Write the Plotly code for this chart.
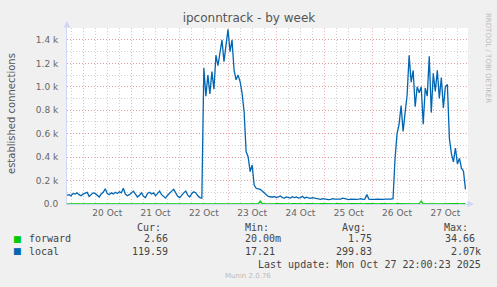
import plotly.graph_objects as go
import pandas as pd

# ---------------- data ----------------
start_time = "2025-10-19 16:00"
end_time = "2025-10-27 23:15"

local = [
    75, 80, 70, 90, 85, 95, 80, 70, 85,
    90, 100, 65, 80, 95, 90, 75, 60, 85,
    100, 130, 90, 80, 95, 85, 100, 90,
    105, 95, 135, 85, 70, 80, 95, 110,
    85, 60, 75, 95, 65, 55, 90, 100,
    85, 95, 70, 90, 110, 80, 65, 50,
    75, 95, 110, 125, 100, 65, 55, 80,
    95, 110, 75, 60, 90, 105, 95, 70, 55, 50,
    1160, 920, 1100, 940, 1130, 980, 1270, 1180, 1290, 1400, 1215, 1380,
    1490, 1300, 1400, 1145, 1060, 1100, 1045, 945, 790, 446, 404, 276,
    333, 162, 134, 130, 125, 110, 95, 80, 65,
    62, 58, 65, 55, 60, 68, 55, 50, 60, 55,
    50, 62, 55, 60, 50, 55, 65, 50, 58, 52, 48, 55, 50, 45,
    42, 40, 45, 42, 40, 38, 40, 45, 42, 40, 38, 42, 50, 45, 40, 38, 42, 40, 38, 40, 42, 45, 40, 42,
    80,
    42, 40, 38, 40, 42, 40, 38, 40, 42, 40, 38, 42, 45,
    390, 600, 680, 840, 620, 780, 930, 1270, 1040, 1140, 830, 1000,
    950, 1000, 680, 990, 920, 1260, 780, 1115, 960, 1140, 900, 1080,
    820, 1000, 1020, 560, 430, 360, 478, 340, 390, 306, 280, 125,
]

forward = [
    2, 1, 2, 3, 2, 1, 2, 2, 1, 2, 3, 2, 2, 1, 2, 2, 3, 2, 1, 2,
    2, 2, 1, 2, 3, 2, 1, 2, 2, 2, 1, 3, 2, 2, 1, 2, 2, 3, 2, 1,
    2, 2, 1, 2, 2, 3, 2, 1, 2, 2, 2, 1, 3, 2, 2, 1, 2, 2, 3, 2,
    1, 2, 2, 1, 2, 3, 2, 2, 1, 2, 2, 3, 2, 1, 2, 2, 1, 2, 3, 2,
    2, 1, 2, 2, 3, 2, 1, 2, 2, 1, 2, 3, 2, 2, 1, 2, 25, 3, 2, 1,
    2, 2, 1, 2, 3, 2, 1, 2, 2, 1, 2, 2, 3, 2, 1, 2, 2, 1, 2, 3,
    2, 1, 2, 2, 1, 2, 3, 2, 2, 1, 2, 2, 1, 2, 3, 2, 1, 2, 2, 1,
    2, 3, 2, 1, 2, 2, 1, 2, 2, 3, 2, 1, 2, 2, 1, 2, 3, 2, 2, 1,
    2, 2, 1, 2, 3, 2, 1, 2, 2, 2, 1, 2, 2, 3, 2, 2, 26, 2, 1, 2,
    2, 3, 2, 1, 2, 2, 1, 2, 3, 2, 2, 1, 2, 2, 3, 2, 1, 2, 2.66,
]

ytick_vals = [0, 200, 400, 600, 800, 1000, 1200, 1400]
ytick_text = ["0.0", "0.2 k", "0.4 k", "0.6 k", "0.8 k", "1.0 k", "1.2 k", "1.4 k"]
y_max = 1502

series_names = ["forward", "local"]
series_colors = ["#00CC00", "#0066B3"]
cur_vals = ["2.66", "119.59"]
min_vals = ["20.00m", "17.21"]
avg_vals = ["1.75", "299.83"]
max_vals = ["34.66", "2.07k"]

title_text = "ipconntrack - by week"
ytitle_text = "established connections"
last_update = "Last update: Mon Oct 27 22:00:23 2025"
footer = "Munin 2.0.76"
watermark = "RRDTOOL / TOBI OETIKER"

# ---------------- layout geometry ----------------
W, H = 497, 287
PL, PR, PT, PB = 67, 468, 28, 204


def px2x(px):
    return (px - PL) / (PR - PL)


def py2y(py):
    return (PB - py) / (PB - PT)


times = pd.date_range(start_time, periods=len(local), freq="h")

fig = go.Figure()
fig.add_trace(go.Scatter(x=times, y=forward, mode="lines", name=series_names[0],
                         line=dict(color=series_colors[0], width=1.2)))
fig.add_trace(go.Scatter(x=times, y=local, mode="lines", name=series_names[1],
                         line=dict(color=series_colors[1], width=1.3)))

MGRID = "rgba(240,120,120,0.55)"
GRID = "rgba(150,150,150,0.45)"
AXIS = "#CFD6F8"
FONT = "#666666"

fig.update_layout(
    width=W, height=H,
    margin=dict(l=PL, r=W - PR, t=PT, b=H - PB, pad=0),
    paper_bgcolor="#F0F0F0", plot_bgcolor="#FFFFFF",
    showlegend=False,
    font=dict(family="DejaVu Sans", color=FONT, size=9),
    title=dict(text=title_text, x=249 / W, xanchor="center", y=1 - 18 / H, yanchor="middle",
               font=dict(size=12, color="#555555", family="DejaVu Sans")),
)

fig.update_xaxes(
    type="date", range=[start_time, end_time],
    tick0="2025-10-20", dtick=86400000, tickformat="%d %b", ticklabelmode="period",
    showgrid=True, gridcolor=MGRID, griddash="1px,2px", gridwidth=1,
    minor=dict(dtick=6 * 3600000, tick0="2025-10-20", showgrid=True, gridcolor=GRID,
               griddash="1px,2px", gridwidth=1),
    showline=True, linecolor=AXIS, linewidth=1, ticks="", zeroline=False,
    tickfont=dict(size=9, color=FONT),
)
fig.update_yaxes(
    range=[0, y_max], tickmode="array", tickvals=ytick_vals, ticktext=ytick_text,
    showgrid=True, gridcolor=MGRID, griddash="1px,2px", gridwidth=1,
    minor=dict(tickmode="linear", tick0=0, dtick=100, showgrid=True, gridcolor=GRID,
               griddash="1px,2px", gridwidth=1),
    showline=True, linecolor=AXIS, linewidth=1, ticks="", zeroline=False,
    tickfont=dict(size=9, color=FONT), ticklabelstandoff=6,
)

ann = []
# axis arrows
ann.append(dict(xref="paper", yref="paper", x=px2x(PL), y=py2y(21), ax=0, ay=8, text="",
                showarrow=True, arrowhead=2, arrowsize=1.3, arrowwidth=1, arrowcolor=AXIS))
ann.append(dict(xref="paper", yref="paper", x=px2x(474), y=py2y(PB), ax=-8, ay=0, text="",
                showarrow=True, arrowhead=2, arrowsize=1.3, arrowwidth=1, arrowcolor=AXIS))
# y title
ann.append(dict(xref="paper", yref="paper", x=px2x(11), y=py2y(114), text=ytitle_text,
                textangle=-90, showarrow=False, xanchor="center", yanchor="middle",
                font=dict(size=10, color="#555555")))
# watermark
ann.append(dict(xref="paper", yref="paper", x=px2x(488), y=py2y(58), text=watermark,
                textangle=90, showarrow=False, xanchor="center", yanchor="middle",
                font=dict(size=7, color="#BBBBBB")))

MONO = "DejaVu Sans Mono"
LEG = "#444444"


def txt(s, x, y, anchor, size=10, color=LEG, family=MONO):
    ann.append(dict(xref="paper", yref="paper", x=px2x(x), y=py2y(y), text=s,
                    showarrow=False, xanchor=anchor, yanchor="middle",
                    font=dict(size=size, color=color, family=family)))


txt("Cur:", 163, 228, "right")
txt("Min:", 243, 228, "left")
txt("Avg:", 368, 228, "right")
txt("Max:", 470, 228, "right")
rows_y = [239, 251]
max_right = [477, 483]
for i in range(2):
    y = rows_y[i]
    txt("■", 17, y, "center", size=9, color=series_colors[i], family="DejaVu Sans")
    txt(series_names[i], 27, y, "left")
    txt(cur_vals[i], 170, y, "right")
    txt(min_vals[i], 243, y, "left")
    txt(avg_vals[i], 374, y, "right")
    txt(max_vals[i], max_right[i], y, "right")
txt(last_update, 483, 264, "right")
txt(footer, 248, 276, "center", size=7, color="#BBBBBB", family="DejaVu Sans")

fig.update_layout(annotations=ann)
fig.write_html("out.html")
